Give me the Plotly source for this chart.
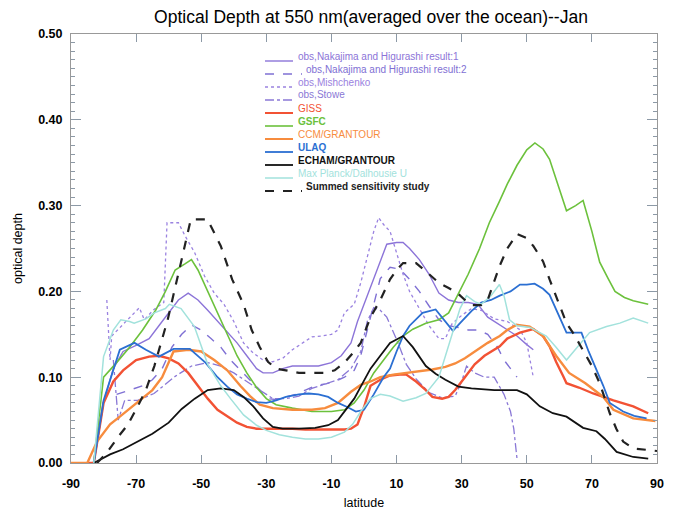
import plotly.graph_objects as go

# ---------------- data ----------------
N1_lat = [-83, -80, -77, -74, -70, -66, -63, -60, -57, -54, -51, -48, -45, -42, -39, -36, -33, -31, -28, -25, -22, -18, -14, -10, -7, -4, -2, 1, 4, 7, 10, 12, 14, 17, 20, 23, 26, 29, 32, 35, 38, 41, 44, 47, 50, 52]
N1_val = [0.0, 0.07, 0.11, 0.13, 0.137, 0.145, 0.16, 0.175, 0.19, 0.198, 0.19, 0.178, 0.165, 0.152, 0.14, 0.125, 0.11, 0.105, 0.105, 0.11, 0.113, 0.113, 0.113, 0.117, 0.125, 0.14, 0.165, 0.195, 0.225, 0.255, 0.257, 0.257, 0.25, 0.237, 0.22, 0.198, 0.19, 0.187, 0.187, 0.185, 0.17, 0.163, 0.155, 0.148, 0.138, 0.132]

N2_lat = [-76, -72, -68, -65, -62, -59, -56, -53, -50, -47, -44, -41, -38, -35, -32, -30, -27, -24, -21, -18, -15, -12, -9, -6, -3, -1, 2, 5, 8, 11, 14, 17, 20, 23, 26, 29, 32, 35, 38, 41, 43, 45, 47]
N2_val = [0.08, 0.085, 0.09, 0.097, 0.11, 0.135, 0.15, 0.161, 0.155, 0.145, 0.135, 0.12, 0.108, 0.097, 0.085, 0.075, 0.074, 0.077, 0.08, 0.085, 0.09, 0.092, 0.095, 0.1, 0.108, 0.125, 0.17, 0.215, 0.228, 0.226, 0.214, 0.2, 0.183, 0.167, 0.16, 0.158, 0.155, 0.155, 0.15, 0.135, 0.12, 0.11, 0.1]

MI_lat = [-79, -78, -77.5, -75, -72.5, -69, -67.5, -64.5, -61.5, -60.5, -57, -55, -52, -49, -46, -43, -40, -37, -34, -31, -28, -25, -22, -19, -16, -13, -10, -8, -6, -3, -1, 1, 3, 4.5, 6, 8, 10, 12, 14, 17, 20, 23, 25, 27, 30, 33, 36, 40, 44, 48, 50, 51, 52]
MI_val = [0.19, 0.12, 0.148, 0.158, 0.167, 0.181, 0.167, 0.179, 0.187, 0.28, 0.28, 0.265, 0.245, 0.218, 0.198, 0.185, 0.165, 0.14, 0.128, 0.12, 0.118, 0.122, 0.132, 0.14, 0.147, 0.148, 0.15, 0.155, 0.175, 0.185, 0.21, 0.24, 0.27, 0.286, 0.278, 0.27, 0.245, 0.22, 0.2, 0.18, 0.16, 0.145, 0.145, 0.162, 0.172, 0.18, 0.178, 0.168, 0.165, 0.155, 0.14, 0.12, 0.1]

ST_lat = [-77, -75.5, -73.5, -69.5, -64.5, -58, -53, -48, -44, -40, -36, -32, -28, -24, -20, -16, -12, -8, -4, -1, 1, 3, 5, 7, 10, 13, 16, 20, 24, 28, 30, 31.5, 34, 37, 40, 43, 45, 46, 47]
ST_val = [0.12, 0.05, 0.073, 0.073, 0.081, 0.101, 0.113, 0.117, 0.113, 0.105, 0.095, 0.085, 0.075, 0.075, 0.078, 0.087, 0.092, 0.097, 0.11, 0.13, 0.165, 0.181, 0.178, 0.17, 0.144, 0.115, 0.098, 0.082, 0.076, 0.078, 0.095, 0.113, 0.105, 0.1, 0.1, 0.08, 0.06, 0.04, 0.005]

GISS_lat = [-85, -83, -80, -77, -74, -70, -66, -63, -60, -57, -54, -51, -48, -45, -42, -39, -36, -33, -30, -26, -22, -18, -14, -10, -6, -4, -2, 0, 2, 5, 8, 11, 13, 16, 19, 21, 24, 26, 28, 31, 34, 37, 41.7, 44, 47.9, 52, 55, 57, 59, 61.2, 62.2, 66, 70.4, 76.6, 82.7, 87.3]
GISS_val = [0, 0, 0.07, 0.095, 0.108, 0.12, 0.124, 0.125, 0.122, 0.116, 0.105, 0.09, 0.075, 0.062, 0.054, 0.047, 0.042, 0.04, 0.04, 0.04, 0.04, 0.039, 0.039, 0.039, 0.039, 0.04, 0.045, 0.065, 0.09, 0.097, 0.102, 0.103, 0.103, 0.095, 0.085, 0.077, 0.075, 0.077, 0.085, 0.1, 0.115, 0.125, 0.136, 0.145, 0.152, 0.156, 0.148, 0.136, 0.118, 0.101, 0.093, 0.088, 0.081, 0.073, 0.066, 0.058]

GSFC_lat = [-83, -80, -76, -72, -68, -64, -61, -58, -55, -53, -51, -48, -45, -42, -39, -36, -33, -30, -27, -22, -16, -10, -6, -3, 0, 3, 6, 9, 12, 15, 19, 23, 26, 29, 32, 35.5, 38.5, 41.6, 44, 47, 50, 52.5, 55, 57, 60, 62.2, 65, 67.3, 70, 72.4, 75, 77.1, 80, 82.7, 87.3]
GSFC_val = [0, 0.1, 0.117, 0.135, 0.155, 0.178, 0.2, 0.225, 0.232, 0.237, 0.225, 0.2, 0.175, 0.15, 0.125, 0.105, 0.088, 0.075, 0.068, 0.064, 0.06, 0.06, 0.062, 0.07, 0.085, 0.105, 0.12, 0.135, 0.148, 0.156, 0.163, 0.167, 0.175, 0.198, 0.22, 0.25, 0.28, 0.305, 0.325, 0.347, 0.365, 0.373, 0.366, 0.354, 0.32, 0.294, 0.3, 0.306, 0.27, 0.234, 0.215, 0.2, 0.193, 0.189, 0.185]

CCM_lat = [-90, -85, -82, -78, -75, -70, -65, -62, -58.5, -54, -50, -46, -42, -38, -35, -32, -28, -22, -16, -12, -8, -4, -1, 2, 5, 9, 13, 17, 21, 25, 28, 31, 35, 38, 41.7, 44, 46.8, 50.9, 55, 59, 63, 68, 73.5, 76.6, 82.7, 89.5]
CCM_val = [0, 0, 0.025, 0.045, 0.054, 0.07, 0.085, 0.1, 0.13, 0.132, 0.13, 0.12, 0.108, 0.09, 0.078, 0.068, 0.064, 0.062, 0.062, 0.064, 0.07, 0.083, 0.091, 0.095, 0.1, 0.103, 0.105, 0.107, 0.109, 0.112, 0.116, 0.122, 0.132, 0.14, 0.148, 0.155, 0.161, 0.159, 0.148, 0.125, 0.105, 0.093, 0.077, 0.062, 0.052, 0.049]

ULAQ_lat = [-83, -80, -75, -70.5, -67, -63, -58.5, -53.5, -48.7, -45, -42, -39, -36, -33, -30, -27, -24, -20, -17, -14, -11, -8, -5, -2.5, 0, 3, 6, 8, 10, 12, 14, 18, 22, 25, 27.3, 30, 33, 36, 39, 41.7, 45, 47.9, 50, 52.4, 55, 57, 60, 62.2, 64.5, 66.8, 69, 71.4, 73.5, 75.5, 79.6, 83, 86.8]
ULAQ_val = [0, 0.073, 0.132, 0.14, 0.132, 0.124, 0.133, 0.133, 0.117, 0.1, 0.089, 0.08, 0.075, 0.071, 0.07, 0.073, 0.077, 0.08, 0.081, 0.08, 0.077, 0.07, 0.065, 0.06, 0.062, 0.08, 0.1, 0.11, 0.13, 0.148, 0.16, 0.175, 0.179, 0.165, 0.154, 0.165, 0.177, 0.187, 0.19, 0.195, 0.2, 0.208, 0.208, 0.209, 0.203, 0.196, 0.17, 0.152, 0.152, 0.152, 0.13, 0.109, 0.09, 0.07, 0.06, 0.055, 0.052]

ECHAM_lat = [-83, -78, -74, -70, -65, -60, -56, -52, -48, -44, -40, -37, -34, -31, -28, -25, -20, -15, -11, -8, -6, -3, -1, 2, 5, 8, 12, 15, 19, 22, 25, 29, 33, 40, 47, 50, 54, 58, 62.2, 67.3, 71.4, 74, 77.6, 82.7, 87.3]
ECHAM_val = [0, 0.01, 0.016, 0.024, 0.034, 0.047, 0.063, 0.075, 0.085, 0.087, 0.085, 0.077, 0.066, 0.052, 0.042, 0.04, 0.04, 0.041, 0.044, 0.05, 0.06, 0.075, 0.089, 0.11, 0.125, 0.14, 0.148, 0.135, 0.113, 0.104, 0.097, 0.089, 0.087, 0.085, 0.085, 0.08, 0.066, 0.058, 0.054, 0.041, 0.037, 0.028, 0.013, 0.007, 0.005]

MPD_lat = [-83, -80, -77, -74.7, -72, -70.6, -67, -64.4, -61, -59.8, -56.2, -52.1, -48, -44, -41, -37, -33, -30, -26, -22, -18, -14, -10, -6, -3.5, -1, 2, 5, 8, 12, 16, 19, 23, 25, 27.3, 29.5, 31.5, 34, 36, 39, 41.6, 43, 44.7, 47, 51, 56, 59, 62.2, 65.5, 69.3, 74.5, 78.6, 82.7, 87.3]
MPD_val = [0, 0.124, 0.155, 0.167, 0.165, 0.163, 0.168, 0.175, 0.18, 0.185, 0.18, 0.159, 0.115, 0.09, 0.075, 0.056, 0.044, 0.038, 0.033, 0.03, 0.028, 0.028, 0.03, 0.036, 0.045, 0.06, 0.075, 0.08, 0.078, 0.072, 0.076, 0.081, 0.1, 0.125, 0.155, 0.18, 0.195, 0.188, 0.185, 0.195, 0.208, 0.195, 0.167, 0.16, 0.158, 0.148, 0.135, 0.12, 0.135, 0.152, 0.159, 0.163, 0.169, 0.163]

SUM_lat = [-82, -79, -75.6, -72.5, -69.5, -67, -64.4, -60.3, -56.2, -53.2, -48.1, -44, -40.5, -37, -34.5, -32, -29.5, -27, -24, -20, -16, -12, -9, -6, -3, -1, 2, 5, 8, 10, 12, 16, 20, 23, 26, 29, 31, 33, 36, 38, 41.7, 44, 47, 50, 52, 55, 57, 60, 62.2, 64.5, 67.3, 70, 72.4, 75.5, 77.5, 79.6, 82.7, 87.3, 90]
SUM_val = [0, 0.012, 0.03, 0.045, 0.066, 0.085, 0.113, 0.167, 0.234, 0.284, 0.284, 0.253, 0.214, 0.185, 0.155, 0.135, 0.118, 0.11, 0.108, 0.105, 0.105, 0.105, 0.108, 0.117, 0.13, 0.14, 0.17, 0.19, 0.214, 0.225, 0.233, 0.233, 0.22, 0.21, 0.204, 0.197, 0.19, 0.184, 0.184, 0.19, 0.23, 0.25, 0.267, 0.262, 0.253, 0.235, 0.214, 0.185, 0.163, 0.15, 0.132, 0.113, 0.093, 0.058, 0.04, 0.025, 0.017, 0.015, 0.014]

NAMES = ["obs,Nakajima and Higurashi result:1", "obs,Nakajima and Higurashi result:2",
         "obs,Mishchenko", "obs,Stowe", "GISS", "GSFC", "CCM/GRANTOUR", "ULAQ",
         "ECHAM/GRANTOUR", "Max Planck/Dalhousie U", "Summed sensitivity study"]
LATS = [N1_lat, N2_lat, MI_lat, ST_lat, GISS_lat, GSFC_lat, CCM_lat, ULAQ_lat, ECHAM_lat, MPD_lat, SUM_lat]
VALS = [N1_val, N2_val, MI_val, ST_val, GISS_val, GSFC_val, CCM_val, ULAQ_val, ECHAM_val, MPD_val, SUM_val]

COLORS = ["#8c74d8", "#7f70d4", "#9a82e0", "#8a78d6", "#f25234", "#6cc13c", "#f78c3e",
          "#2b6fd2", "#111111", "#a2e2dc", "#222222"]
DASHES = ["solid", "dash", "dot", "dashdot", "solid", "solid", "solid", "solid", "solid", "solid", "dash"]
WIDTHS = [1.4, 1.4, 1.3, 1.3, 2.4, 1.6, 2.4, 1.8, 1.8, 1.5, 2.2]
TEXT_BOLD = [False, False, False, False, False, True, False, True, True, False, True]

X_TICKS = [-90, -70, -50, -30, -10, 10, 30, 50, 70, 90]
Y_TICKS = [0.0, 0.1, 0.2, 0.3, 0.4, 0.5]
Y_TICKTEXT = ["0.00", "0.10", "0.20", "0.30", "0.40", "0.50"]

# ---------------- figure ----------------
# page body has an 8px margin: the figure is offset by (8, 8) in the window
OFF = 8
W, H = 675 - OFF, 512 - OFF
L, R, T, B = 71 - OFF, 18, 34 - OFF, 49
PW, PH = W - L - R, H - T - B

fig = go.Figure()
for name, la, va, c, d, w in zip(NAMES, LATS, VALS, COLORS, DASHES, WIDTHS):
    fig.add_trace(go.Scatter(x=la, y=va, mode="lines", name=name, showlegend=False,
                             line=dict(color=c, dash=d, width=w)))

def px2paper(px, py):
    # px, py are window pixel positions
    return (px - OFF - L) / PW, (H - B - (py - OFF)) / PH

shapes = []
annos = []
for i, name in enumerate(NAMES):
    ty = 56 + 13 * i
    sy = ty + 5
    long = DASHES[i] == "dash"
    x0, _ = px2paper(265, sy)
    x1, yy = px2paper(302 if long else 293, sy)
    shapes.append(dict(type="line", xref="paper", yref="paper", x0=x0, x1=x1, y0=yy, y1=yy,
                       line=dict(color=COLORS[i], dash=DASHES[i], width=min(WIDTHS[i], 2))))
    tx, tyy = px2paper(304 if long else 296, ty)
    annos.append(dict(xref="paper", yref="paper", x=tx, y=tyy, xanchor="left", yanchor="middle",
                      text=name, showarrow=False,
                      font=dict(family="Liberation Sans, Arial", size=10, color=COLORS[i],
                                weight="bold" if TEXT_BOLD[i] else "normal")))

fig.update_layout(
    width=W, height=H,
    margin=dict(l=L, r=R, t=T, b=B, autoexpand=False),
    paper_bgcolor="white", plot_bgcolor="white",
    font=dict(family="Liberation Sans, Arial", color="black"),
    title=dict(text="Optical Depth at 550 nm(averaged over the ocean)--Jan",
               x=(371 - OFF) / W, xref="container", xanchor="center",
               y=1 - (17 - OFF) / H, yref="container", yanchor="middle",
               font=dict(size=17.5, color="black")),
    shapes=shapes, annotations=annos,
    showlegend=False,
)
fig.update_xaxes(range=[-90, 90], tickvals=X_TICKS, ticktext=[str(v) for v in X_TICKS],
                 ticks="inside", ticklen=8, tickcolor="#8c99a6", showline=True, linecolor="#999",
                 mirror="ticks", showgrid=False, zeroline=False, automargin=False,
                 tickfont=dict(size=12.5, weight="bold"), ticklabelstandoff=9,
                 title=dict(text="latitude", font=dict(size=12.5), standoff=8))
fig.update_yaxes(range=[0, 0.5], tickvals=Y_TICKS, ticktext=Y_TICKTEXT,
                 ticks="inside", ticklen=10, tickcolor="#8c99a6", showline=True, linecolor="#999",
                 mirror="ticks", showgrid=False, zeroline=False, automargin=False,
                 minor=dict(dtick=0.01, ticks="inside", ticklen=4, tickcolor="#8c99a6", showgrid=False),
                 tickfont=dict(size=12.5, weight="bold"), ticklabelstandoff=5,
                 title=dict(text="optical depth", font=dict(size=12.5), standoff=12))

fig.write_html("out.html")
